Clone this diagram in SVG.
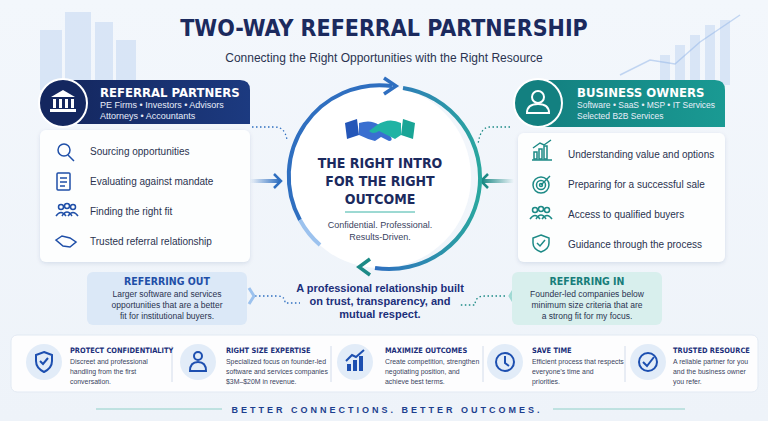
<svg xmlns="http://www.w3.org/2000/svg" width="768" height="421" viewBox="0 0 768 421">
<defs>
<style>
text{font-family:"Liberation Sans",Arial,sans-serif}
.title{font-family:"DejaVu Sans Condensed","Liberation Sans",sans-serif;font-weight:bold;fill:#1b2a5e}
.item{font-size:10px;fill:#2a3350}
.hdr{font-family:"DejaVu Sans Condensed","Liberation Sans",sans-serif;font-weight:bold;font-size:13px;fill:#fff}
.sub{font-size:9px;fill:#e8eefa}
.card{fill:#fff;opacity:.92}
.ic{fill:none;stroke:#1f4fa8;stroke-width:1.5}
.ict{fill:none;stroke:#1d8a86;stroke-width:1.5}
.bt{font-family:"DejaVu Sans Condensed","Liberation Sans",sans-serif;font-weight:bold;font-size:7.4px;fill:#1b2f7a}
.bd{font-size:6.9px;fill:#3a4360}
.rt{font-family:"DejaVu Sans Condensed","Liberation Sans",sans-serif;font-weight:bold;font-size:10.5px;text-anchor:middle}
.dot{fill:none;stroke-width:1.3;stroke-dasharray:1.5 2.5}
.small{font-size:8.5px;fill:#2a3350;text-anchor:middle}
</style>
<linearGradient id="bg" x1="0" y1="0" x2="0" y2="1"><stop offset="0" stop-color="#f3f7fc"/><stop offset="1" stop-color="#eef3f9"/></linearGradient>
<linearGradient id="ring" x1="0" y1="0" x2="1" y2="0"><stop offset="0" stop-color="#2f6fc0"/><stop offset="1" stop-color="#2aa79f"/></linearGradient>
<linearGradient id="la" x1="0" x2="1"><stop offset="0" stop-color="#2f6fc0" stop-opacity="0"/><stop offset="1" stop-color="#2f6fc0"/></linearGradient>
<linearGradient id="ra" x1="1" x2="0"><stop offset="0" stop-color="#1d8a86" stop-opacity="0"/><stop offset="1" stop-color="#1d8a86"/></linearGradient>
<linearGradient id="lh" x1="0" x2="1"><stop offset="0" stop-color="#14275f"/><stop offset="1" stop-color="#1c3a80"/></linearGradient>
<linearGradient id="rh" x1="0" x2="1"><stop offset="0" stop-color="#138080"/><stop offset="1" stop-color="#1a9a93"/></linearGradient>
<filter id="sh" x="-10%" y="-10%" width="120%" height="130%"><feDropShadow dx="0" dy="1.5" stdDeviation="2" flood-color="#7890b0" flood-opacity=".25"/></filter>
</defs>
<rect width="768" height="421" fill="url(#bg)"/>
<g opacity=".25" fill="#8fb4e8">
<rect x="40" y="30" width="22" height="60"/><rect x="65" y="12" width="26" height="78"/><rect x="95" y="22" width="18" height="68"/><rect x="116" y="40" width="20" height="50"/>
<rect x="660" y="55" width="10" height="30"/><rect x="675" y="45" width="10" height="40"/><rect x="690" y="35" width="10" height="50"/><rect x="705" y="25" width="10" height="60"/><rect x="720" y="20" width="10" height="65"/>
</g>
<polyline points="620,75 650,60 675,64 700,42 740,15" fill="none" stroke="#8fb4e8" stroke-width="1.5" opacity=".5"/>

<text x="384" y="36" class="title" font-size="23" text-anchor="middle">TWO-WAY REFERRAL PARTNERSHIP</text>
<text x="384" y="62" font-size="12" fill="#2a3350" text-anchor="middle">Connecting the Right Opportunities with the Right Resource</text>

<g id="connectors">
<path d="M252 127 H275 Q285 127 287 140" class="dot" stroke="#2f6fc0"/>
<path d="M510 127 H490 Q480 127 478 145" class="dot" stroke="#1d8a86"/>
<path d="M255 296 H278 Q285 296 285 303 H300" class="dot" stroke="#2f6fc0"/>
<path d="M505 296 H485 Q475 296 475 305 H460" class="dot" stroke="#1d8a86"/>
<rect x="250" y="179" width="30" height="4" fill="url(#la)"/>
<path d="M274 174 L281 181 L274 188" fill="none" stroke="#2f6fc0" stroke-width="2.5"/>
<rect x="482" y="179" width="32" height="4" fill="url(#ra)"/>
<path d="M488 174 L481 181 L488 188" fill="none" stroke="#1d8a86" stroke-width="2.5"/>
<path d="M249 288 L254 296 L249 304" fill="none" stroke="#9cc2ee" stroke-width="3"/>
<path d="M515 288 L510 296 L515 304" fill="none" stroke="#9fd9d3" stroke-width="3"/>
</g>

<g id="center">
<circle cx="380" cy="177" r="91" fill="#fff"/>
<path d="M300 220 A91 91 0 0 1 392 86" fill="none" stroke="#2f6fc0" stroke-width="4"/>
<path d="M403 88 A91 91 0 0 1 375 268" fill="none" stroke="url(#ring)" stroke-width="4"/>
<path d="M320 245 A91 91 0 0 1 300 220" fill="none" stroke="#9cc2ee" stroke-width="4"/>
<path d="M384 78 L396 86 L384 94" fill="none" stroke="#2f6fc0" stroke-width="3.5"/>
<path d="M370 259 L359 267 L370 275" fill="none" stroke="#1d8a86" stroke-width="3.5"/>
<g transform="translate(345 115)">
<path d="M0 8 L12 4 L14 20 L2 24 Z" fill="#2456b8"/>
<path d="M70 8 L58 4 L56 20 L68 24 Z" fill="#19a596"/>
<path d="M14 8 Q26 4 34 10 L46 22 Q48 26 44 26 L36 22 L30 26 Q22 24 14 20 Z" fill="#3a6fd0"/>
<path d="M56 8 Q44 2 32 10 L24 16 Q28 20 34 16 L50 24 L56 20 Z" fill="#20b3a4"/>
</g>
<text x="380" y="168" class="title" font-size="14" text-anchor="middle">THE RIGHT INTRO</text>
<text x="380" y="186" class="title" font-size="14" text-anchor="middle">FOR THE RIGHT</text>
<text x="380" y="204" class="title" font-size="14" text-anchor="middle">OUTCOME</text>
<line x1="345" y1="212" x2="415" y2="212" stroke="#3bb3a6" stroke-width="1"/>
<text x="380" y="228" font-size="9" fill="#3a4360" text-anchor="middle">Confidential. Professional.</text>
<text x="380" y="240" font-size="9" fill="#3a4360" text-anchor="middle">Results-Driven.</text>
<text x="380" y="292" font-size="11" fill="#1b2f7a" text-anchor="middle" font-weight="bold">A professional relationship built</text>
<text x="380" y="305" font-size="11" fill="#1b2f7a" text-anchor="middle" font-weight="bold">on trust, transparency, and</text>
<text x="380" y="318" font-size="11" fill="#1b2f7a" text-anchor="middle" font-weight="bold">mutual respect.</text>
</g>

<g id="referral-partners">
<rect x="40" y="130" width="210" height="132" rx="6" class="card" filter="url(#sh)"/>
<path d="M60 80 H240 Q250 80 250 90 V124 H60 Z" fill="url(#lh)"/>
<circle cx="63" cy="103" r="24" fill="#14275f" stroke="#fff" stroke-width="2"/>
<g fill="#fff"><path d="M51 97 L63 90 L75 97 Z"/><rect x="53" y="99" width="3" height="9"/><rect x="59" y="99" width="3" height="9"/><rect x="65" y="99" width="3" height="9"/><rect x="71" y="99" width="3" height="9"/><rect x="50" y="109" width="26" height="3"/></g>
<text x="100" y="97" class="hdr">REFERRAL PARTNERS</text>
<text x="100" y="108" class="sub">PE Firms • Investors • Advisors</text>
<text x="100" y="119" class="sub">Attorneys • Accountants</text>
<circle cx="64" cy="150" r="6" class="ic"/><line x1="68" y1="155" x2="74" y2="161" class="ic" stroke-width="2"/>
<text x="90" y="155" class="item">Sourcing opportunities</text>
<rect x="57" y="173" width="13" height="17" rx="1" class="ic"/><path d="M60 178h7M60 182h7M60 186h5" class="ic" stroke-width="1"/>
<text x="90" y="185" class="item">Evaluating against mandate</text>
<g class="ic"><circle cx="61" cy="207" r="2.5"/><circle cx="67" cy="206" r="2.5"/><circle cx="73" cy="207" r="2.5"/><path d="M56 216 Q61 209 66 216M62 216 Q67 208 72 216M68 216 Q73 209 78 216"/></g>
<text x="90" y="215" class="item">Finding the right fit</text>
<path d="M56 240 L62 236 L70 238 L76 242 L70 247 L63 246 Z" class="ic"/>
<text x="90" y="245" class="item">Trusted referral relationship</text>
</g>

<g id="business-owners">
<rect x="518" y="133" width="207" height="129" rx="6" class="card" filter="url(#sh)"/>
<path d="M540 80 H715 Q725 80 725 90 V127 H540 Z" fill="url(#rh)"/>
<circle cx="538" cy="103" r="24" fill="#138080" stroke="#fff" stroke-width="2"/>
<circle cx="538" cy="97" r="6" fill="none" stroke="#fff" stroke-width="2"/>
<path d="M527 113 Q527 104 538 104 Q549 104 549 113 Z" fill="none" stroke="#fff" stroke-width="2"/>
<text x="577" y="97" class="hdr">BUSINESS OWNERS</text>
<text x="577" y="108" class="sub" style="font-size:8.5px">Software • SaaS • MSP • IT Services</text>
<text x="577" y="119" class="sub" style="font-size:8.5px">Selected B2B Services</text>
<g class="ict"><rect x="534" y="152" width="3" height="7"/><rect x="539" y="149" width="3" height="10"/><rect x="544" y="146" width="3" height="13"/><path d="M533 148 L540 143 L544 145 L551 140"/><line x1="532" y1="160" x2="552" y2="160"/></g>
<text x="568" y="158" class="item">Understanding value and options</text>
<g class="ict"><circle cx="541" cy="185" r="8"/><circle cx="541" cy="185" r="4.5"/><circle cx="541" cy="185" r="1.5"/><line x1="541" y1="185" x2="550" y2="176"/></g>
<text x="568" y="188" class="item">Preparing for a successful sale</text>
<g class="ict"><circle cx="535" cy="210" r="2.5"/><circle cx="541" cy="209" r="2.5"/><circle cx="547" cy="210" r="2.5"/><path d="M530 219 Q535 212 540 219M536 219 Q541 211 546 219M542 219 Q547 212 552 219"/></g>
<text x="568" y="218" class="item">Access to qualified buyers</text>
<path d="M541 235 L549 238 V243 Q549 249 541 252 Q533 249 533 243 V238 Z" class="ict"/><path d="M537 243 L540 246 L545 240" class="ict"/>
<text x="568" y="248" class="item">Guidance through the process</text>
</g>

<g id="referring-out">
<rect x="87" y="272" width="160" height="53" rx="6" fill="#dbe8f7"/>
<text x="167" y="285" class="rt" fill="#1f4fa8">REFERRING OUT</text>
<text x="167" y="297" class="small">Larger software and services</text>
<text x="167" y="308" class="small">opportunities that are a better</text>
<text x="167" y="319" class="small">fit for institutional buyers.</text>
</g>
<g id="referring-in">
<rect x="512" y="272" width="150" height="53" rx="6" fill="#d8efed"/>
<text x="587" y="285" class="rt" fill="#177d7a">REFERRING IN</text>
<text x="587" y="297" class="small">Founder-led companies below</text>
<text x="587" y="308" class="small">minimum size criteria that are</text>
<text x="587" y="319" class="small">a strong fit for my focus.</text>
</g>

<g id="benefits">
<rect x="11" y="335" width="747" height="57" rx="6" fill="#fff" opacity=".9" stroke="#e1e8f2"/>
<g stroke="#d3dceb"><line x1="172" y1="346" x2="172" y2="382"/><line x1="331" y1="346" x2="331" y2="382"/><line x1="483" y1="346" x2="483" y2="382"/><line x1="625" y1="346" x2="625" y2="382"/></g>
<g fill="#e2ecf8"><circle cx="44" cy="362" r="18"/><circle cx="198" cy="362" r="18"/><circle cx="355" cy="362" r="18"/><circle cx="505" cy="362" r="18"/><circle cx="648" cy="362" r="18"/></g>
<path d="M44 352 L52 355 V361 Q52 368 44 372 Q36 368 36 361 V355 Z" fill="none" stroke="#1d4fb0" stroke-width="2"/><path d="M40 361 L43 364 L48 358" fill="none" stroke="#1d4fb0" stroke-width="2"/>
<g fill="none" stroke="#1d4fb0" stroke-width="2"><circle cx="198" cy="356" r="4"/><path d="M190 371 Q190 362 198 362 Q206 362 206 371 Z"/></g>
<g fill="#1d4fb0"><rect x="347" y="364" width="4" height="7"/><rect x="353" y="360" width="4" height="11"/><rect x="359" y="356" width="4" height="15"/></g><path d="M346 361 L352 355 L356 357 L364 350" fill="none" stroke="#1d4fb0" stroke-width="2"/>
<g fill="none" stroke="#1d4fb0" stroke-width="2"><circle cx="505" cy="362" r="9"/><path d="M505 356 V363 L509 366"/><circle cx="648" cy="362" r="9"/><path d="M643 362 L647 366 L654 357"/></g>
<text x="70" y="353" class="bt">PROTECT CONFIDENTIALITY</text>
<text x="70" y="364" class="bd">Discreet and professional</text><text x="70" y="374" class="bd">handling from the first</text><text x="70" y="384" class="bd">conversation.</text>
<text x="226" y="353" class="bt">RIGHT SIZE EXPERTISE</text>
<text x="226" y="364" class="bd">Specialized focus on founder-led</text><text x="226" y="374" class="bd">software and services companies</text><text x="226" y="384" class="bd">$3M–$20M in revenue.</text>
<text x="385" y="353" class="bt">MAXIMIZE OUTCOMES</text>
<text x="385" y="364" class="bd">Create competition, strengthen</text><text x="385" y="374" class="bd">negotiating position, and</text><text x="385" y="384" class="bd">achieve best terms.</text>
<text x="532" y="353" class="bt">SAVE TIME</text>
<text x="532" y="364" class="bd">Efficient process that respects</text><text x="532" y="374" class="bd">everyone’s time and</text><text x="532" y="384" class="bd">priorities.</text>
<text x="673" y="353" class="bt">TRUSTED RESOURCE</text>
<text x="673" y="364" class="bd">A reliable partner for you</text><text x="673" y="374" class="bd">and the business owner</text><text x="673" y="384" class="bd">you refer.</text>
</g>

<line x1="96" y1="409" x2="222" y2="409" stroke="#8fd0c8" stroke-width="1"/>
<line x1="553" y1="409" x2="685" y2="409" stroke="#8fd0c8" stroke-width="1"/>
<text x="387" y="413" font-family="Liberation Mono,monospace" font-size="9" font-weight="bold" fill="#1d3f8f" text-anchor="middle" letter-spacing="3">BETTER CONNECTIONS. BETTER OUTCOMES.</text>
</svg>
